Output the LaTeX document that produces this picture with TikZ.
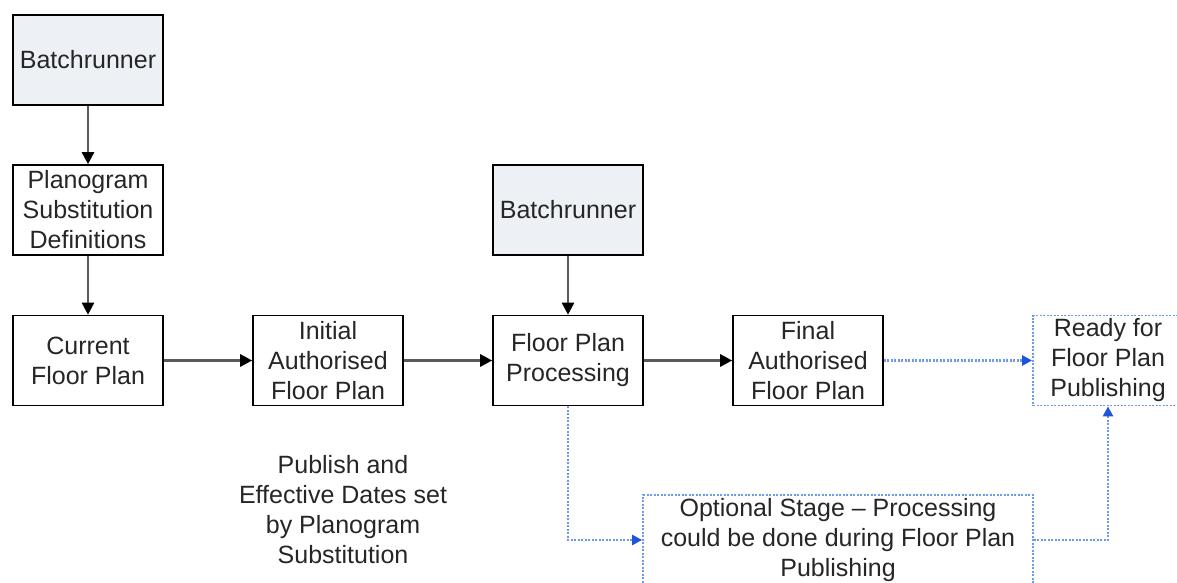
\documentclass[tikz,border=0pt]{standalone}
\usepackage{fontspec}
\setmainfont{Liberation Sans}
\usepackage{tikz}
\usetikzlibrary{arrows.meta,positioning}
\definecolor{runfill}{HTML}{EDF0F5}
\definecolor{flowgray}{HTML}{5A5A5A}
\definecolor{optline}{HTML}{6E9AEE}
\definecolor{opttip}{HTML}{1E55D8}

\tikzset{
  stage/.style={draw=black,line width=1.6pt,minimum width=150pt,minimum height=90pt,
    align=center,inner sep=0pt,text=black!85,font=\fontsize{25}{30}\selectfont},
  runner/.style={stage,fill=runfill},
  optstage/.style={stage,draw=optline,dash pattern=on 2pt off 1.5pt,line width=1.8pt},
  flow/.style={flowgray,line width=2.6pt,-{Triangle[length=12pt,width=12pt,color=black]}},
  optflow/.style={optline,dash pattern=on 2pt off 1.5pt,line width=2.4pt,
    -{Triangle[length=10pt,width=10pt,color=opttip]}}
}

\begin{document}
\begin{tikzpicture}[x=1pt,y=-1pt]
  \useasboundingbox (0,0) rectangle (1177,583);
  % main row
  \node[stage] (cur) at (88,360.5) {Current\\Floor Plan};
  \node[stage] (init) at (328,360.5) {Initial\\Authorised\\Floor Plan};
  \node[stage] (proc) at (568,360.5) {Floor Plan\\Processing};
  \node[stage] (final) at (808,360.5) {Final\\Authorised\\Floor Plan};
  \node[optstage] (ready) at (1108,360.5) {Ready for\\Floor Plan\\Publishing};
  % feeding boxes
  \node[stage] (subst) at (88,210) {Planogram\\Substitution\\Definitions};
  \node[runner] (run1) at (88,60) {Batchrunner};
  \node[runner] (run2) at (568,210) {Batchrunner};
  \node[optstage,minimum width=390pt] (opt) at (838,540)
    {Optional Stage -- Processing\\could be done during Floor Plan\\Publishing};
  \node[align=center,text=black!85,font=\fontsize{25}{30}\selectfont] (note) at (343,510)
    {Publish and\\Effective Dates set\\by Planogram\\Substitution};

  \draw[flow] (run1) -- (subst);
  \draw[flow] (subst) -- (cur);
  \draw[flow] (cur) -- (init);
  \draw[flow] (init) -- (proc);
  \draw[flow] (run2) -- (proc);
  \draw[flow] (proc) -- (final);
  \draw[optflow] (final) -- (ready);
  \draw[optflow] (proc.south) |- (opt.west);
  \draw[optflow] (opt.east) -| (ready.south);
\end{tikzpicture}
\end{document}
